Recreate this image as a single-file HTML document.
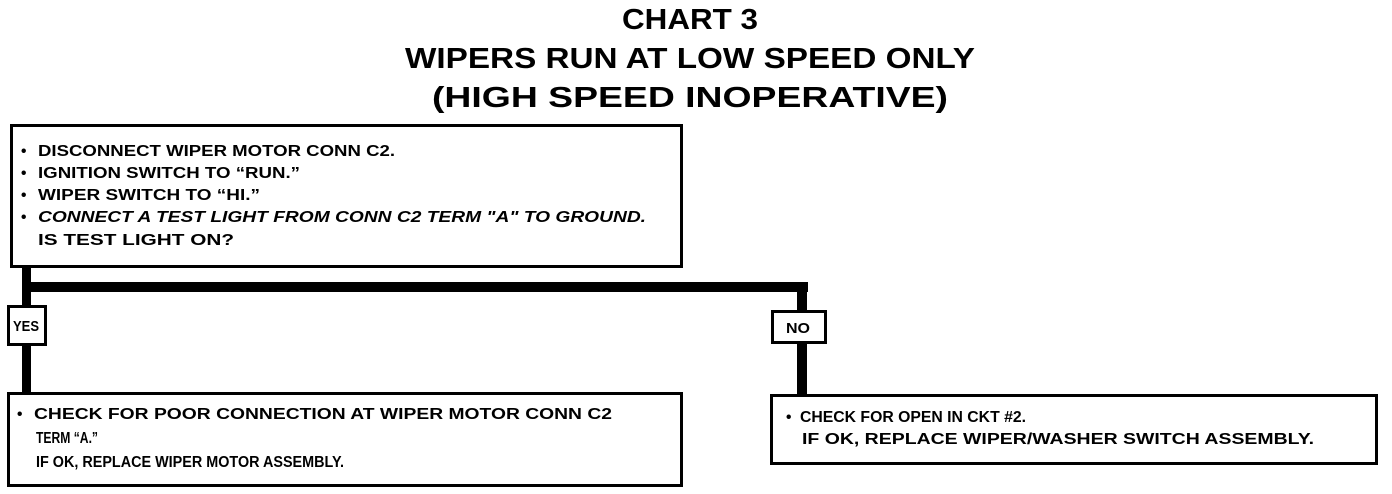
<!DOCTYPE html>
<html><head><meta charset="utf-8"><style>
html,body{margin:0;padding:0;background:#fff;}
svg{display:block}
text{font-family:"Liberation Sans",Arial,sans-serif;font-weight:bold;fill:#000}
</style></head><body>
<svg width="1392" height="494" viewBox="0 0 1392 494" xmlns="http://www.w3.org/2000/svg">
<text x="690" y="29" font-size="29" text-anchor="middle" textLength="136" lengthAdjust="spacingAndGlyphs">CHART 3</text>
<text x="690" y="68" font-size="29" text-anchor="middle" textLength="570" lengthAdjust="spacingAndGlyphs">WIPERS RUN AT LOW SPEED ONLY</text>
<text x="690" y="107" font-size="29" text-anchor="middle" textLength="516" lengthAdjust="spacingAndGlyphs">(HIGH SPEED INOPERATIVE)</text>

<rect x="22" y="266" width="9" height="128" fill="#000"/>
<rect x="22" y="282" width="786" height="10" fill="#000"/>
<rect x="797" y="282" width="10" height="114" fill="#000"/>

<rect x="11.5" y="125.5" width="670" height="141" fill="#fff" stroke="#000" stroke-width="3"/>
<g font-size="15.5">
<text x="21" y="156">•</text><text x="38" y="156" textLength="357" lengthAdjust="spacingAndGlyphs">DISCONNECT WIPER MOTOR CONN C2.</text>
<text x="21" y="178">•</text><text x="38" y="178" textLength="262" lengthAdjust="spacingAndGlyphs">IGNITION SWITCH TO “RUN.”</text>
<text x="21" y="200">•</text><text x="38" y="200" textLength="222" lengthAdjust="spacingAndGlyphs">WIPER SWITCH TO “HI.”</text>
<text x="21" y="222">•</text><text x="38" y="222" font-style="italic" textLength="608" lengthAdjust="spacingAndGlyphs">CONNECT A TEST LIGHT FROM CONN C2 TERM "A" TO GROUND.</text>
<text x="38" y="245" textLength="196" lengthAdjust="spacingAndGlyphs">IS TEST LIGHT ON?</text>
</g>

<rect x="8.5" y="306.5" width="37" height="38" fill="#fff" stroke="#000" stroke-width="3"/>
<text x="13" y="331" font-size="15" textLength="26" lengthAdjust="spacingAndGlyphs">YES</text>
<rect x="772.5" y="311.5" width="53" height="31" fill="#fff" stroke="#000" stroke-width="3"/>
<text x="786" y="333" font-size="15" textLength="24" lengthAdjust="spacingAndGlyphs">NO</text>

<rect x="8.5" y="393.5" width="673" height="92" fill="#fff" stroke="#000" stroke-width="3"/>
<g font-size="15.5">
<text x="17" y="419">•</text><text x="34" y="419" textLength="578" lengthAdjust="spacingAndGlyphs">CHECK FOR POOR CONNECTION AT WIPER MOTOR CONN C2</text>
<text x="36" y="443" textLength="62" lengthAdjust="spacingAndGlyphs">TERM “A.”</text>
<text x="36" y="467" textLength="308" lengthAdjust="spacingAndGlyphs">IF OK, REPLACE WIPER MOTOR ASSEMBLY.</text>
</g>

<rect x="771.5" y="395.5" width="605" height="68" fill="#fff" stroke="#000" stroke-width="3"/>
<g font-size="15.5">
<text x="786" y="422">•</text><text x="800" y="422" textLength="226" lengthAdjust="spacingAndGlyphs">CHECK FOR OPEN IN CKT #2.</text>
<text x="802" y="444" textLength="512" lengthAdjust="spacingAndGlyphs">IF OK, REPLACE WIPER/WASHER SWITCH ASSEMBLY.</text>
</g>
</svg>
</body></html>
